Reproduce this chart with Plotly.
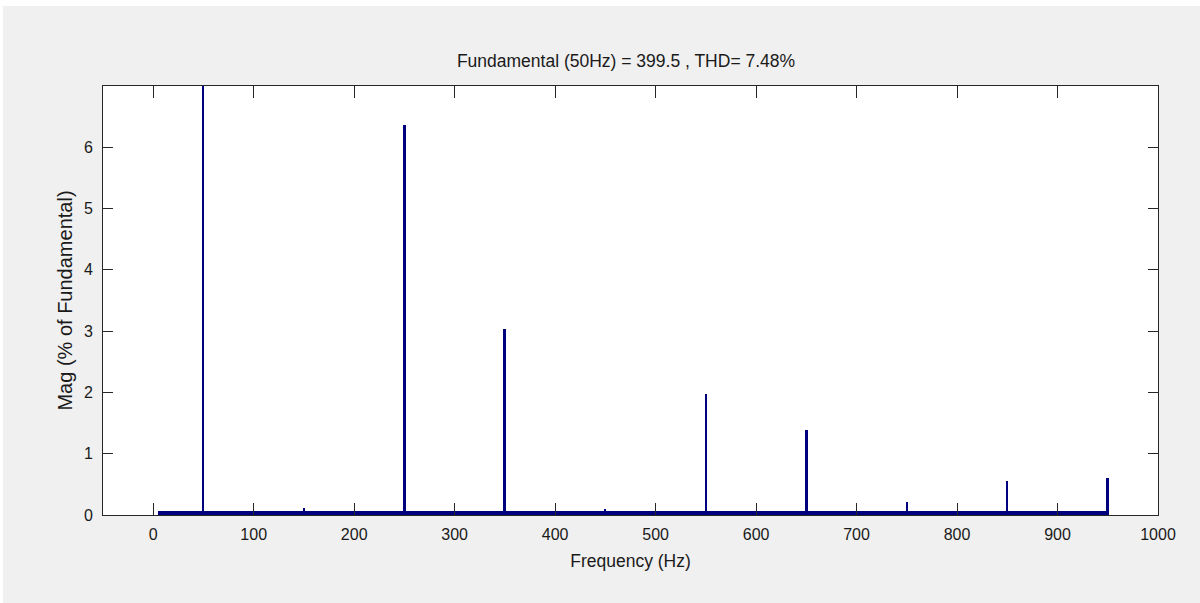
import plotly.graph_objects as go

# ---- data ----
harm_freq = [50, 150, 250, 350, 450, 550, 650, 750, 850, 950]
harm_mag = [100.0, 0.12, 6.36, 3.03, 0.10, 1.97, 1.38, 0.21, 0.56, 0.61]
harm_width = [2.0, 1.5, 3.0, 3.0, 1.5, 1.5, 3.0, 1.5, 1.5, 3.0]

# small interharmonic / noise content forming the thick base line
base_centers = [30, 80, 130, 180, 230, 280, 330, 380, 430, 480,
                530, 580, 630, 680, 730, 780, 830, 880, 925]
base_mag = [0.065, 0.065, 0.065, 0.065, 0.065, 0.065, 0.065, 0.065, 0.06, 0.06,
            0.065, 0.065, 0.065, 0.065, 0.065, 0.065, 0.065, 0.065, 0.065]
base_width = [50, 50, 50, 50, 50, 50, 50, 50, 50, 50,
              50, 50, 50, 50, 50, 50, 50, 50, 50]

x_ticks = [0, 100, 200, 300, 400, 500, 600, 700, 800, 900, 1000]
y_ticks = [0, 1, 2, 3, 4, 5, 6]

title_text = "Fundamental (50Hz) = 399.5 , THD= 7.48%"
navy = "#00007F"
FONT = "Liberation Sans Narrow, Arial Narrow, Liberation Sans, Arial, sans-serif"
TXT = "#1a1a1a"

fig = go.Figure()
fig.add_trace(go.Bar(x=base_centers, y=base_mag, width=base_width,
                     marker=dict(color=navy, line=dict(width=0)),
                     showlegend=False, hoverinfo="skip"))
fig.add_trace(go.Bar(x=harm_freq, y=harm_mag, width=harm_width,
                     marker=dict(color=navy, line=dict(width=0)),
                     showlegend=False))

W, H = 1200, 603
L, R, T, B = 103, 42, 86, 88
pw, ph = W - L - R, H - T - B

def px_x(p):
    return (p - L) / pw

def px_y(p):
    return (H - B - p) / ph

fig.update_layout(
    width=W, height=H,
    margin=dict(l=L, r=R, t=T, b=B, pad=0),
    paper_bgcolor="#F0F0F0",
    plot_bgcolor="#FFFFFF",
    bargap=0,
    barmode="overlay",
    font=dict(family=FONT, size=16, color=TXT),
    title=dict(text=title_text, x=626 / W, xanchor="center", xref="container",
               y=1 - 61 / H, yanchor="middle", yref="container",
               font=dict(family=FONT, size=17.5, color=TXT)),
    xaxis=dict(range=[-50, 1000], tickvals=x_ticks, ticktext=[str(v) for v in x_ticks],
               ticks="inside", ticklen=12, tickwidth=1, tickcolor="#262626",
               showline=True, linecolor="#262626", linewidth=1, mirror="ticks",
               showgrid=False, zeroline=False,
               tickfont=dict(family=FONT, size=16, color=TXT),
               ticklabelstandoff=5,
               title=dict(text="Frequency (Hz)", standoff=12,
                          font=dict(family=FONT, size=17.5, color=TXT))),
    yaxis=dict(range=[0, 7], tickvals=y_ticks, ticktext=[str(v) for v in y_ticks],
               ticks="inside", ticklen=10, tickwidth=1, tickcolor="#262626",
               showline=True, linecolor="#262626", linewidth=1, mirror="ticks",
               showgrid=False, zeroline=False,
               tickfont=dict(family=FONT, size=16, color=TXT),
               ticklabelstandoff=6,
               title=dict(text="Mag (% of Fundamental)", standoff=5,
                          font=dict(family=FONT, size=20, color=TXT))),
    shapes=[
        dict(type="rect", xref="paper", yref="paper",
             x0=px_x(-5), x1=px_x(W + 5), y0=px_y(6), y1=px_y(-5),
             fillcolor="#FFFFFF", line=dict(width=0), layer="below"),
        dict(type="rect", xref="paper", yref="paper",
             x0=px_x(-5), x1=px_x(3), y0=px_y(H + 5), y1=px_y(-5),
             fillcolor="#FFFFFF", line=dict(width=0), layer="below"),
    ],
)

fig.write_html("out.html", config={"displayModeBar": False},
               post_script="document.body.style.margin='0px';document.body.style.overflow='hidden';")
